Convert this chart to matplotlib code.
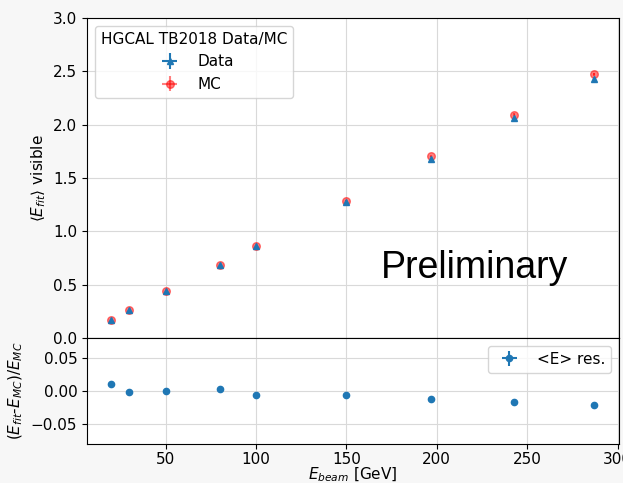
import matplotlib
matplotlib.use('Agg')
import matplotlib.pyplot as plt

# beam energies [GeV]
energy = [20, 30, 50, 80, 100, 150, 197, 243, 287]
# mean fitted visible energy
data_mean = [0.172, 0.258, 0.437, 0.688, 0.862, 1.275, 1.680, 2.060, 2.430]
mc_mean = [0.170, 0.259, 0.437, 0.687, 0.867, 1.283, 1.702, 2.095, 2.472]
mean_err = [0.004, 0.004, 0.005, 0.006, 0.007, 0.008, 0.009, 0.010, 0.011]
energy_err = [0.5, 0.5, 0.5, 0.5, 0.5, 0.5, 0.5, 0.5, 0.5]
# relative residual (data - mc) / mc
resid = [0.0102, -0.0015, 0.0, 0.0025, -0.0056, -0.006, -0.0115, -0.0165, -0.0205]
resid_err = [0.001, 0.001, 0.001, 0.001, 0.001, 0.001, 0.001, 0.001, 0.001]

plt.rcParams['font.size'] = 11

fig = plt.figure(figsize=(6.23, 4.83), dpi=100)
fig.patch.set_facecolor('#f7f7f7')
ax1 = fig.add_axes([0.1397, 0.3002, 0.8539, 0.6625])
ax2 = fig.add_axes([0.1397, 0.0807, 0.8539, 0.2195], sharex=ax1)

ax1.errorbar(energy, data_mean, xerr=energy_err, yerr=mean_err, fmt='^',
             color='C0', ms=4.5, label='Data', zorder=3)
ax1.errorbar(energy, mc_mean, xerr=energy_err, yerr=mean_err, fmt='o',
             color='red', alpha=0.5, ms=5.5, label='MC', zorder=2)
ax1.set_ylim(0, 3.0)
ax1.set_ylabel(r'$\langle E_{fit}\rangle$ visible')
ax1.grid(True, color='#d9d9d9')
ax1.tick_params(labelbottom=False)
leg = ax1.legend(title='HGCAL TB2018 Data/MC', loc='upper left',
                 title_fontsize=11)
ax1.text(169, 0.56, 'Preliminary', fontsize=27, family='Liberation Sans')

ax2.errorbar(energy, resid, xerr=energy_err, yerr=resid_err, fmt='o',
             color='C0', ms=4.5, label='<E> res.')
ax2.set_ylim(-0.08, 0.08)
ax2.set_yticks([-0.05, 0.0, 0.05])
ax2.set_xlim(6.6, 300.8)
ax2.tick_params(axis='x', pad=2)
ax2.set_xlabel(r'$E_{beam}$ [GeV]', labelpad=-1)
ax2.set_ylabel(r'$(E_{fit}$-$E_{MC})/E_{MC}$')
ax2.grid(True, color='#d9d9d9')
ax2.legend(loc='upper right')

for ax in (ax1, ax2):
    ax.set_facecolor('white')
    ax.set_axisbelow(True)

fig.savefig('out.png', dpi=100, facecolor=fig.get_facecolor())
